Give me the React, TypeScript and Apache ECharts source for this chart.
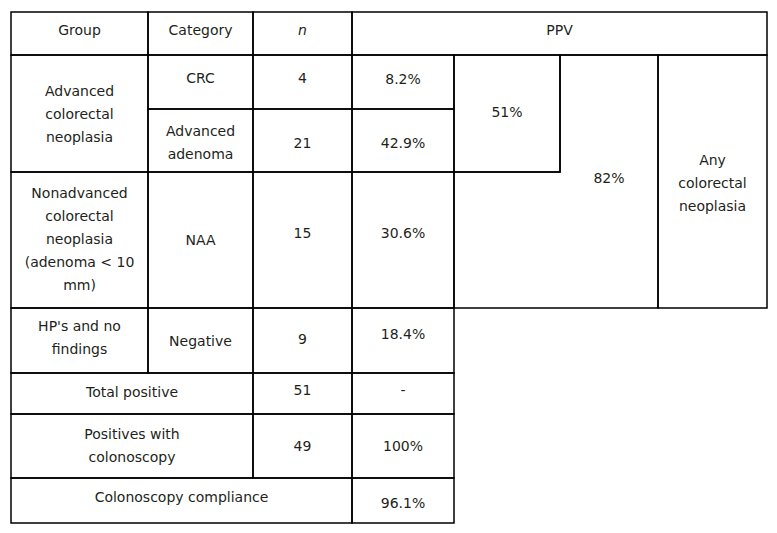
import React, { useEffect, useRef } from "react";
import * as echarts from "echarts";

// ---- Data ----
const headers = ["Group", "Category", "n", "PPV"];
const groups = [
  "Advanced\ncolorectal\nneoplasia",
  "Nonadvanced\ncolorectal\nneoplasia\n(adenoma < 10\nmm)",
  "HP's and no\nfindings",
];
const categories = ["CRC", "Advanced\nadenoma", "NAA", "Negative"];
const counts = [4, 21, 15, 9];
const ppvValues = ["8.2%", "42.9%", "30.6%", "18.4%"];
const combinedLabels = ["51%", "82%", "Any\ncolorectal\nneoplasia"];
const summaryLabels = ["Total positive", "Positives with\ncolonoscopy", "Colonoscopy compliance"];
const summaryCounts = ["51", "49"];
const summaryPPV = ["-", "100%", "96.1%"];

// ---- Layout (grid lines) ----
const colX = [11, 148, 253, 352, 454, 560, 658, 767];
const rowY = [12, 55, 109, 172, 308, 373, 414, 478, 523];
const groupRows = [[1, 3], [3, 4], [4, 5]];
const groupDy = [0, -1.5, -3.5];
const categoryDy = [-4, 2, 0, 0];
const countDy = [-4, 2, -7, -2];
const ppvDy = [-3, 2, -7, -7];
const summaryDy = [-2, -1, -3.5];
const summaryCountDy = [-4, 0];
const summaryPpvDy = [-4, 0, 2];

const FONT = "DejaVu Sans";
const TEXT_COLOR = "#231f20";
const LINE = "#000";
const LW = 1.5;

type Cell = { text: string; r0: number; r1: number; c0: number; c1: number; dy: number; italic?: boolean; border?: boolean; };

function buildCells(): Cell[] {
  const cells: Cell[] = [];
  headers.forEach((h, i) => {
    const c0 = i;
    const c1 = i === 3 ? 7 : i + 1;
    cells.push({ text: h, r0: 0, r1: 1, c0, c1, dy: -4, italic: h === "n", border: true });
  });
  groups.forEach((g, i) => {
    cells.push({ text: g, r0: groupRows[i][0], r1: groupRows[i][1], c0: 0, c1: 1, dy: groupDy[i], border: true });
  });
  categories.forEach((c, i) => {
    const r = i + 1;
    cells.push({ text: c, r0: r, r1: r + 1, c0: 1, c1: 2, dy: categoryDy[i], border: true });
    cells.push({ text: String(counts[i]), r0: r, r1: r + 1, c0: 2, c1: 3, dy: countDy[i], border: true });
    cells.push({ text: ppvValues[i], r0: r, r1: r + 1, c0: 3, c1: 4, dy: ppvDy[i], border: true });
  });
  cells.push({ text: combinedLabels[0], r0: 1, r1: 3, c0: 4, c1: 5, dy: -2, border: true });
  cells.push({ text: combinedLabels[1], r0: 1, r1: 4, c0: 5, c1: 6, dy: -4, border: false });
  cells.push({ text: combinedLabels[2], r0: 1, r1: 4, c0: 6, c1: 7, dy: 1, border: true });
  summaryLabels.forEach((s, i) => {
    const r = 5 + i;
    const c1 = i === 2 ? 3 : 2;
    cells.push({ text: s, r0: r, r1: r + 1, c0: 0, c1, dy: summaryDy[i], border: true });
    if (i < 2) cells.push({ text: summaryCounts[i], r0: r, r1: r + 1, c0: 2, c1: 3, dy: summaryCountDy[i], border: true });
    cells.push({ text: summaryPPV[i], r0: r, r1: r + 1, c0: 3, c1: 4, dy: summaryPpvDy[i], border: true });
  });
  return cells;
}

export default function App() {
  const ref = useRef<HTMLDivElement>(null);
  useEffect(() => {
    if (!ref.current) return;
    const chart = echarts.init(ref.current, undefined, { renderer: "svg" });
    const cells = buildCells();
    const elements: any[] = [];
    cells.forEach((c) => {
      const x0 = colX[c.c0], x1 = colX[c.c1], y0 = rowY[c.r0], y1 = rowY[c.r1];
      if (c.border) {
        elements.push({
          type: "rect",
          shape: { x: x0, y: y0, width: x1 - x0, height: y1 - y0 },
          style: { fill: "none", stroke: LINE, lineWidth: LW },
          silent: true,
        });
      }
    });
    // L-shaped cell for the 82% group
    elements.push({
      type: "polygon",
      shape: {
        points: [
          [colX[4], rowY[3]], [colX[4], rowY[4]], [colX[6], rowY[4]],
          [colX[6], rowY[1]], [colX[5], rowY[1]], [colX[5], rowY[3]],
        ],
      },
      style: { fill: "none", stroke: LINE, lineWidth: LW },
      silent: true,
    });
    cells.forEach((c) => {
      const x0 = colX[c.c0], x1 = colX[c.c1], y0 = rowY[c.r0], y1 = rowY[c.r1];
      elements.push({
        type: "text",
        x: (x0 + x1) / 2,
        y: (y0 + y1) / 2 + c.dy,
        style: {
          text: c.text,
          fontFamily: FONT,
          fontSize: 14,
          fontStyle: c.italic ? "italic" : "normal",
          lineHeight: 23,
          fill: TEXT_COLOR,
          align: "center",
          verticalAlign: "middle",
        },
        silent: true,
      });
    });
    chart.setOption({
      animation: false,
      backgroundColor: "#ffffff",
      graphic: { elements },
    });
    return () => chart.dispose();
  }, []);
  return (
    <div
      ref={ref}
      style={{ position: "fixed", left: 0, top: 0, width: 777, height: 533, background: "#fff" }}
    />
  );
}
